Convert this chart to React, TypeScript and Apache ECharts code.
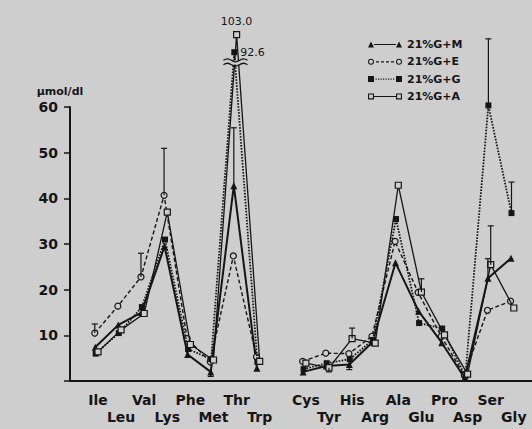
import React, { useEffect, useRef } from "react";
import * as echarts from "echarts";

// ---- data ----
const categories = ["Ile", "Leu", "Val", "Lys", "Phe", "Met", "Thr", "Trp", "", "Cys", "Tyr", "His", "Arg", "Ala", "Glu", "Pro", "Asp", "Ser", "Gly"];
const seriesNames = ["21%G+M", "21%G+E", "21%G+G", "21%G+A"];
const gM = [7.4, 12.3, 15.0, 29.5, 5.8, 2.0, 42.8, 2.8, null, 2.0, 3.3, 3.6, 8.5, 25.9, 15.3, 8.4, 0.6, 22.5, 26.9];
const gE = [10.5, 16.4, 22.8, 40.7, 9.3, 4.2, 27.4, 5.3, null, 4.3, 6.1, 6.0, 9.8, 30.6, 19.4, 9.8, 1.2, 15.5, 17.5];
const gG = [6.0, 10.5, 16.2, 31.0, 7.0, 4.8, 92.6, 4.2, null, 2.6, 3.9, 4.8, 9.0, 35.5, 12.7, 11.5, 1.0, 60.4, 36.8];
const gA = [6.4, 11.2, 14.8, 37.0, 8.0, 4.6, 103.0, 4.3, null, 3.9, 2.9, 9.3, 8.3, 42.9, 19.5, 10.1, 1.5, 25.5, 16.0];
// error bars: category, series index, end value
const errorBars: [string, number, number][] = [
  ["Ile", 1, 12.5],
  ["Val", 1, 28.0],
  ["Lys", 1, 51.0],
  ["Thr", 0, 55.5],
  ["Met", 0, 1.0],
  ["Tyr", 3, 2.0],
  ["His", 3, 11.6],
  ["His", 0, 2.5],
  ["Glu", 3, 22.4],
  ["Ser", 2, 75.0],
  ["Ser", 3, 34.0],
  ["Ser", 0, 26.8],
  ["Gly", 2, 43.6],
];
const yTicks = [0, 10, 20, 30, 40, 50, 60];
const breakAt = 85; // values above this are drawn on the compressed (broken) part of the axis

const BG = "#cecece";
const INK = "#151515";
const FONT = "DejaVu Sans";

const offsets = [-0.12, -0.14, -0.1, 0.0];
const allSeries = [gM, gE, gG, gA];
const disp = (v: number) => (v > breakAt ? 60 + (v - 60) * 0.37 : v);

const iconM = "path://M0,6L3,0L6,6Z M6,2.4L28,2.4L28,3.6L6,3.6Z M28,6L31,0L34,6Z";
const iconE =
  "path://M0,3A3,3,0,1,1,6,3A3,3,0,1,1,0,3Z M1,3A2,2,0,1,0,5,3A2,2,0,1,0,1,3Z " +
  "M28,3A3,3,0,1,1,34,3A3,3,0,1,1,28,3Z M29,3A2,2,0,1,0,33,3A2,2,0,1,0,29,3Z " +
  "M8,2.4L11,2.4L11,3.6L8,3.6Z M13,2.4L16,2.4L16,3.6L13,3.6Z M18,2.4L21,2.4L21,3.6L18,3.6Z M23,2.4L26,2.4L26,3.6L23,3.6Z";
const iconG =
  "path://M0,0L6,0L6,6L0,6Z M28,0L34,0L34,6L28,6Z " +
  [7.5, 10, 12.5, 15, 17.5, 20, 22.5, 25].map((x) => `M${x},2.4L${x + 1.2},2.4L${x + 1.2},3.6L${x},3.6Z`).join(" ");
const iconA =
  "path://M0,0L6,0L6,6L0,6Z M1.1,1.1L1.1,4.9L4.9,4.9L4.9,1.1Z M28,0L34,0L34,6L28,6Z M29.1,1.1L29.1,4.9L32.9,4.9L32.9,1.1Z M6,2.5L28,2.5L28,3.5L6,3.5Z";
const icons = [iconM, iconE, iconG, iconA];

export default function App() {
  const ref = useRef<HTMLDivElement>(null);
  useEffect(() => {
    if (!ref.current) return;
    const chart = echarts.init(ref.current, null, { renderer: "svg" });

    const symbols = ["triangle", "circle", "rect", "rect"];
    const sizes = [7, 6, 6, 6];
    const filled = [true, false, true, false];
    const lineTypes: any[] = ["solid", [4, 2.5], [1.6, 1.4], "solid"];
    const lineWidths = [2, 1.4, 1.8, 1.3];

    const lineSeries = allSeries.map((arr, s) => ({
      name: seriesNames[s],
      type: "line",
      xAxisIndex: 0,
      yAxisIndex: 0,
      symbol: symbols[s],
      symbolSize: sizes[s],
      z: 3 + s,
      lineStyle: { color: INK, width: lineWidths[s], type: lineTypes[s] },
      itemStyle: filled[s]
        ? { color: INK, borderWidth: 0 }
        : { color: BG, borderColor: INK, borderWidth: 1.2 },
      data: arr.map((v, i) => {
        if (v == null) return [i + offsets[s], "-"];
        const item: any = { value: [i + offsets[s], disp(v)] };
        if (v > breakAt) {
          item.label = {
            show: true,
            formatter: v.toFixed(1),
            position: s === 3 ? "top" : "right",
            distance: s === 3 ? 4 : 3,
            color: INK,
            fontFamily: FONT,
            fontSize: 11,
          };
        }
        return item;
      }),
    }));

    const errData = errorBars.map(([cat, s, end]) => {
      const i = categories.indexOf(cat);
      return [i + offsets[s], allSeries[s][i] as number, end];
    });

    const option: any = {
      animation: false,
      backgroundColor: BG,
      textStyle: { fontFamily: FONT, color: INK },
      grid: [
        { left: 86.45, right: 6.65, top: 16, bottom: 48, outerBoundsMode: "none", containLabel: false },
        { left: 70, right: 0, top: 107, bottom: 48, outerBoundsMode: "none", containLabel: false },
      ],
      xAxis: [
        { type: "value", gridIndex: 0, min: -0.5, max: 18.5, show: false },
        {
          type: "category",
          gridIndex: 0,
          position: "bottom",
          data: categories,
          boundaryGap: true,
          axisLine: { show: false },
          axisTick: { show: false },
          axisLabel: {
            interval: 0,
            margin: 10,
            color: INK,
            fontFamily: FONT,
            fontSize: 14,
            fontWeight: "bold",
            lineHeight: 17,
            formatter: (v: string, i: number) => {
              const k = i < 8 ? i : i - 9;
              return k % 2 === 1 ? "\n" + v : v;
            },
          },
        },
        {
          type: "value",
          gridIndex: 1,
          min: 0,
          max: 1,
          axisLine: { show: true, lineStyle: { color: INK, width: 2 } },
          axisTick: { show: false },
          axisLabel: { show: false },
          splitLine: { show: false },
        },
      ],
      yAxis: [
        { type: "value", gridIndex: 0, min: 0, max: 80, show: false },
        {
          type: "value",
          gridIndex: 1,
          min: yTicks[0],
          max: yTicks[yTicks.length - 1],
          interval: 10,
          name: "μmol/dl",
          nameLocation: "end",
          nameGap: 10,
          nameTextStyle: { color: INK, fontFamily: FONT, fontSize: 11, fontWeight: "bold", padding: [0, 20, 0, 0] },
          axisLine: { show: true, lineStyle: { color: INK, width: 2 } },
          axisTick: { show: true, length: 6, lineStyle: { color: INK, width: 1.5 } },
          axisLabel: {
            margin: 12,
            color: INK,
            fontFamily: FONT,
            fontSize: 14,
            fontWeight: "bold",
            formatter: (v: number) => (v === 0 ? "" : String(v)),
          },
          splitLine: { show: false },
        },
      ],
      legend: {
        orient: "vertical",
        left: 363,
        top: 33,
        itemWidth: 34,
        itemHeight: 6,
        itemGap: 4.3,
        textStyle: { color: INK, fontFamily: FONT, fontSize: 11, fontWeight: "bold", lineHeight: 13 },
        data: seriesNames.map((n, s) => ({
          name: n,
          icon: icons[s],
          itemStyle: { color: INK, borderWidth: 0 },
        })),
      },
      series: [
        ...lineSeries,
        {
          type: "custom",
          name: "err",
          xAxisIndex: 0,
          yAxisIndex: 0,
          z: 10,
          data: errData,
          renderItem: (params: any, api: any) => {
            const x = api.value(0);
            const p0 = api.coord([x, api.value(1)]);
            const p1 = api.coord([x, api.value(2)]);
            const st = { stroke: INK, lineWidth: 1.2 };
            return {
              type: "group",
              children: [
                { type: "line", shape: { x1: p0[0], y1: p0[1], x2: p1[0], y2: p1[1] }, style: st },
                { type: "line", shape: { x1: p1[0] - 3, y1: p1[1], x2: p1[0] + 3, y2: p1[1] }, style: st },
              ],
            };
          },
        },
        {
          type: "custom",
          name: "break",
          xAxisIndex: 0,
          yAxisIndex: 0,
          z: 12,
          data: [[categories.indexOf("Thr") - 0.05, 69.8]],
          renderItem: (params: any, api: any) => {
            const p = api.coord([api.value(0), api.value(1)]);
            const wave = (dy: number) =>
              [-12, -8, -4, 0, 4, 8, 12].map((dx, k) => [p[0] + dx, p[1] + dy + [0, -1.5, 0, 1.5, 0, -1.5, 0][k]]);
            return {
              type: "group",
              children: [
                { type: "rect", shape: { x: p[0] - 12, y: p[1] - 2, width: 24, height: 4 }, style: { fill: BG } },
                { type: "polyline", shape: { points: wave(-2.2), smooth: 0.5 }, style: { stroke: INK, lineWidth: 1.3, fill: null } },
                { type: "polyline", shape: { points: wave(2.2), smooth: 0.5 }, style: { stroke: INK, lineWidth: 1.3, fill: null } },
              ],
            };
          },
        },
      ],
    };
    chart.setOption(option);
    return () => chart.dispose();
  }, []);
  return <div ref={ref} style={{ position: "fixed", left: 0, top: 0, width: 532, height: 429 }} />;
}
